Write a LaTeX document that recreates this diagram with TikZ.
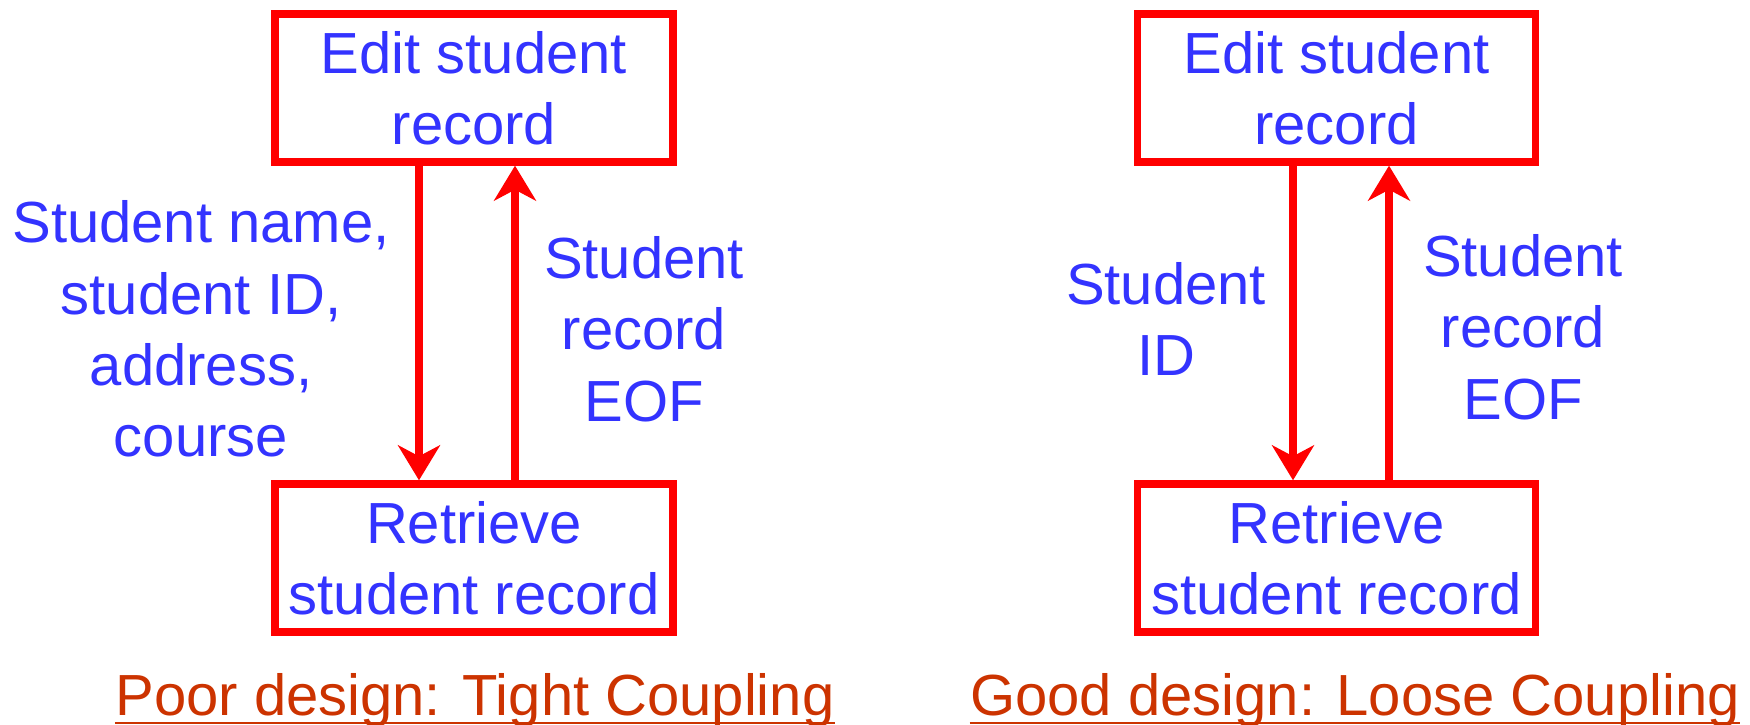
\documentclass[tikz,border=0pt]{standalone}
\usepackage{fontspec}
\setmainfont{Liberation Sans}
\usepackage{xcolor}
\usetikzlibrary{arrows.meta}
\definecolor{textblue}{RGB}{51,51,255}
\definecolor{capred}{RGB}{204,51,0}

\begin{document}
\begin{tikzpicture}[
  box/.style={shape=rectangle, draw=red, line width=2.1pt, minimum width=3.98cm, minimum height=1.48cm, align=center, text=textblue, inner sep=0pt},
  lbl/.style={align=center, text=textblue},
  flow/.style={draw=red, line width=2.1pt, -{Stealth[length=3.5mm,width=4.2mm,inset=1.1mm]}},
  caption/.style={text=capred, inner sep=0pt, anchor=base},
  font=\fontsize{16.5}{20.3}\selectfont]
\useasboundingbox (0,0) rectangle (17.5,7.25);
% poor design
\node at (4.74, 6.37) [box] (edit1) {Edit student\\record};
\node at (4.74, 1.67) [box] (retr1) {Retrieve\\student record};
\draw [flow] ([xshift=-0.55cm]edit1.south) to ([xshift=-0.55cm]retr1.north);
\draw [flow] ([xshift=0.41cm]retr1.north) to ([xshift=0.41cm]edit1.south);
\node at (2.01, 3.96) [lbl] (data1) {Student name,\\student ID,\\address,\\course};
\node at (6.44, 3.96) [lbl] (back1) {Student\\record\\EOF};
\node at (4.75, 0.09) [caption] (cap1) {Poor design: Tight Coupling};
\draw [capred, line width=0.85pt] ([yshift=-0.7mm]cap1.base west) -- ([yshift=-0.7mm]cap1.base east);
% good design
\node at (13.365, 6.37) [box] (edit2) {Edit student\\record};
\node at (13.365, 1.67) [box] (retr2) {Retrieve\\student record};
\draw [flow] ([xshift=-0.435cm]edit2.south) to ([xshift=-0.435cm]retr2.north);
\draw [flow] ([xshift=0.525cm]retr2.north) to ([xshift=0.525cm]edit2.south);
\node at (11.66, 4.06) [lbl] (data2) {Student\\ID};
\node at (15.23, 3.98) [lbl] (back2) {Student\\record\\EOF};
\node at (13.55, 0.09) [caption] (cap2) {Good design: Loose Coupling};
\draw [capred, line width=0.85pt] ([yshift=-0.7mm]cap2.base west) -- ([yshift=-0.7mm]cap2.base east);
\end{tikzpicture}
\end{document}
